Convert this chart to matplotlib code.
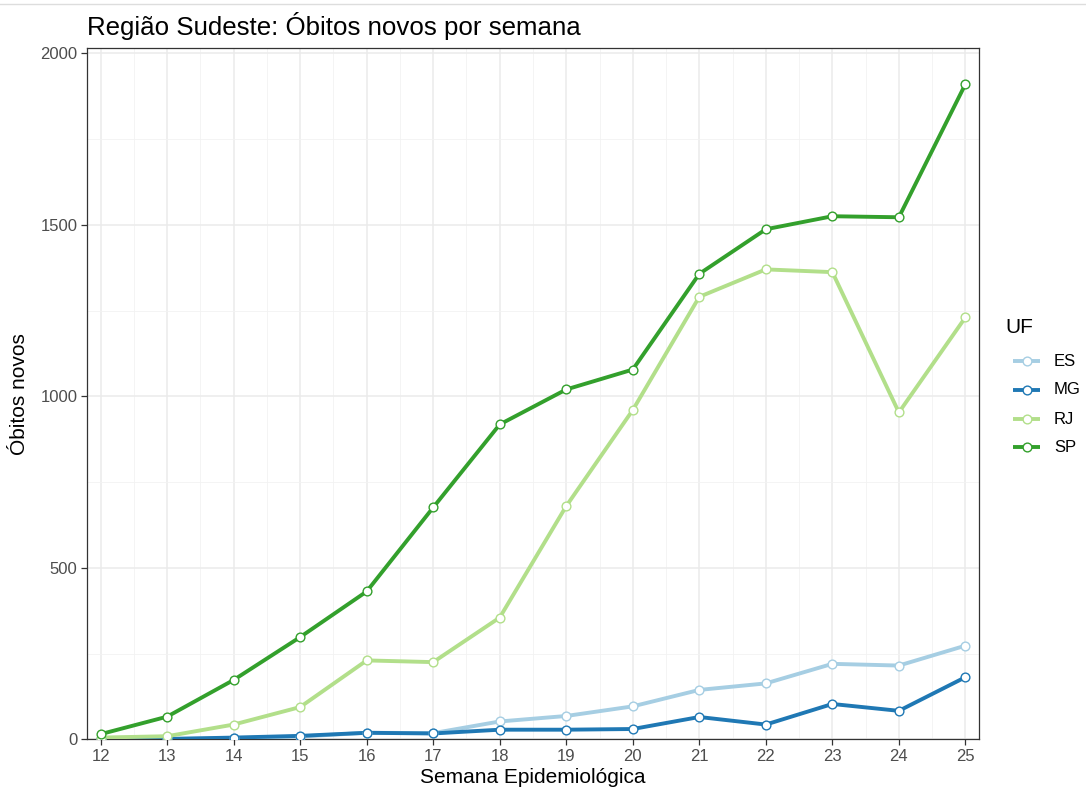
import matplotlib

matplotlib.use("Agg")
import matplotlib.pyplot as plt
from matplotlib.lines import Line2D
import numpy as np

plt.rcParams["font.family"] = ["Liberation Sans", "DejaVu Sans"]

weeks = list(range(12, 26))
states = ["ES", "MG", "RJ", "SP"]
colors = ["#A6CEE3", "#1F78B4", "#B2DF8A", "#33A02C"]
es = [0, 1, 3, 8, 19, 18, 52, 68, 96, 144, 163, 220, 215, 273]
mg = [0, 1, 5, 10, 19, 17, 28, 28, 30, 65, 43, 103, 83, 181]
rj = [5, 9, 43, 94, 230, 225, 355, 680, 960, 1290, 1370, 1362, 953, 1230]
sp = [15, 66, 173, 298, 431, 676, 918, 1020, 1078, 1357, 1487, 1525, 1522, 1910]
series = [es, mg, rj, sp]

W, H = 1086, 790
fig = plt.figure(figsize=(W / 100, H / 100), dpi=100)
ax = fig.add_axes([87.3 / W, 1 - 739.3 / H, (978.7 - 87.3) / W, (739.3 - 48.3) / H])

# lines first, then points on top (like ggplot layers)
for vals, col in zip(series, colors):
    ax.plot(weeks, vals, color=col, linewidth=2.8, zorder=3, solid_capstyle="butt")
for vals, col in zip(series, colors):
    ax.plot(weeks, vals, linestyle="none", marker="o", markersize=6.3,
            markerfacecolor="white", markeredgecolor=col, markeredgewidth=1.0, zorder=4)

ax.set_xlim(11.8, 25.2)
ax.set_ylim(0, 2014.6)
ax.set_xticks(weeks)
ax.set_xticks(np.arange(12.5, 25, 1), minor=True)
ax.set_yticks([0, 500, 1000, 1500, 2000])
ax.set_yticks([250, 750, 1250, 1750], minor=True)
ax.grid(which="major", color="#EBEBEB", linewidth=1.1, zorder=0)
ax.grid(which="minor", color="#F2F2F2", linewidth=0.6, zorder=0)
ax.set_axisbelow(True)
ax.tick_params(which="major", length=4, width=0.9, color="#333333",
               labelsize=12, labelcolor="#4D4D4D", pad=3)
ax.tick_params(which="minor", length=0)
for s in ax.spines.values():
    s.set_color("#333333")
    s.set_linewidth(0.9)

ax.set_xlabel("Semana Epidemiológica", fontsize=15, color="black", labelpad=3)
ax.set_ylabel("Óbitos novos", fontsize=15, color="black", labelpad=8)
fig.text(87.3 / W, 1 - 35 / H, "Região Sudeste: Óbitos novos por semana",
         fontsize=18.6, ha="left", va="baseline")

# legend
fig.text(1005 / W, 1 - 333 / H, "UF", fontsize=15, ha="left", va="baseline")
ys = [361, 390, 419, 447]
for y, st, col in zip(ys, states, colors):
    fig.add_artist(Line2D([1013 / W, 1040 / W], [1 - y / H, 1 - y / H], color=col,
                          linewidth=2.8, solid_capstyle="butt"))
    fig.add_artist(Line2D([1026.5 / W], [1 - y / H], marker="o", markersize=6.3,
                          markerfacecolor="white", markeredgecolor=col, markeredgewidth=1.0))
    fig.text(1054 / W, 1 - y / H, st, fontsize=12, ha="left", va="center")

fig.add_artist(Line2D([0, 1], [1 - 3.5 / H, 1 - 3.5 / H], color="#DDDDDD", linewidth=1))

fig.savefig("out.png", dpi=100)
